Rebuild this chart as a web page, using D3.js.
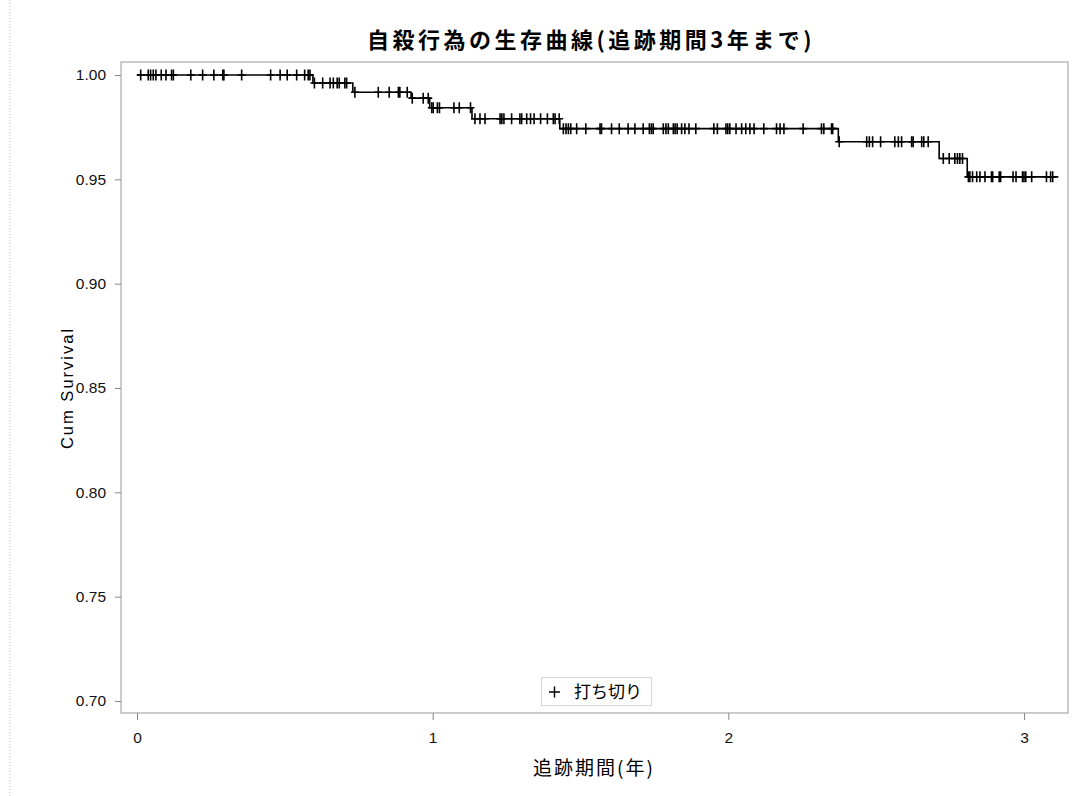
<!DOCTYPE html>
<html>
<head>
<meta charset="utf-8">
<script src="https://cdn.jsdelivr.net/npm/d3@7"></script>
<style>
  body { margin: 0; background: #fff; }
  svg { display: block; }
  .tick text { font-family: "Liberation Sans", Arial, sans-serif; font-size: 15.5px; fill: #111; }
  .tick line { stroke: #888; }
</style>
</head>
<body>
<script>
// step function of the survival curve
var stepTimes = [0.595, 0.73, 0.927, 0.99, 1.133, 1.43, 2.372, 2.713, 2.808];
var survLevels = [1.0, 0.9962, 0.9917, 0.9889, 0.9843, 0.979, 0.9743, 0.968, 0.960, 0.9512];
var endTime = 3.116;

// censored observations (years)
var censorTimes = [
  0.0125, 0.038, 0.046, 0.055, 0.064, 0.082, 0.098, 0.117, 0.123, 0.182, 0.222, 0.26, 0.290, 0.294,
  0.354, 0.452, 0.484, 0.508, 0.540, 0.567, 0.579, 0.585,
  0.600, 0.628, 0.653, 0.664, 0.677, 0.684, 0.703, 0.709,
  0.737, 0.816, 0.853, 0.884, 0.889, 0.914,
  0.931, 0.968, 0.985,
  0.997, 1.002, 1.016, 1.023, 1.072, 1.090, 1.128,
  1.143, 1.160, 1.177, 1.228, 1.234, 1.241, 1.267, 1.295, 1.301, 1.318, 1.331, 1.343, 1.365, 1.388,
  1.408, 1.414, 1.428,
  1.442, 1.451, 1.459, 1.467, 1.487, 1.518, 1.566, 1.571, 1.605, 1.631, 1.661, 1.684, 1.712, 1.733,
  1.740, 1.746, 1.780, 1.789, 1.797, 1.814, 1.820, 1.827, 1.842, 1.853, 1.867, 1.890, 1.951, 1.963,
  1.992, 1.998, 2.005, 2.026, 2.045, 2.059, 2.073, 2.087, 2.120, 2.163, 2.175, 2.188, 2.253, 2.315,
  2.323, 2.349, 2.353,
  2.375, 2.468, 2.477, 2.488, 2.515, 2.563, 2.575, 2.586, 2.620, 2.625, 2.654, 2.661, 2.676,
  2.727, 2.747, 2.766, 2.775, 2.783, 2.792,
  2.812, 2.817, 2.826, 2.840, 2.851, 2.868, 2.890, 2.894, 2.916, 2.921, 2.963, 2.973, 2.995, 3.000,
  3.006, 3.026, 3.076, 3.090, 3.097
];

var xTicks = [0, 1, 2, 3];
var yTicks = [0.70, 0.75, 0.80, 0.85, 0.90, 0.95, 1.00];

var width = 1073, height = 796,
    frameLeft = 121, frameRight = 1068, frameTop = 62, frameBottom = 713;

var svg = d3.select("body").append("svg")
    .attr("width", width)
    .attr("height", height);

var x = d3.scaleLinear().domain([0, 3]).range([137, 1024]);
var y = d3.scaleLinear().domain([0.70, 1.00]).range([701, 75]);

// faint outer border on the left
svg.append("line")
    .attr("x1", 10).attr("x2", 10).attr("y1", 0).attr("y2", height)
    .attr("stroke", "#bbb").attr("stroke-dasharray", "1,2");

// plot frame
svg.append("rect")
    .attr("x", frameLeft).attr("y", frameTop)
    .attr("width", frameRight - frameLeft).attr("height", frameBottom - frameTop)
    .attr("fill", "none").attr("stroke", "#999");

// axes
var yAxis = svg.append("g")
    .attr("transform", "translate(" + frameLeft + ",0)")
    .call(d3.axisLeft(y).tickValues(yTicks).tickFormat(d3.format(".2f")).tickSize(6).tickPadding(9));
yAxis.select(".domain").remove();

var xAxis = svg.append("g")
    .attr("transform", "translate(0," + frameBottom + ")")
    .call(d3.axisBottom(x).tickValues(xTicks).tickFormat(d3.format("d")).tickSize(7).tickPadding(12));
xAxis.select(".domain").remove();

// survival step line
function levelAt(t) {
  return survLevels[d3.bisectRight(stepTimes, t)];
}
var linePts = [[0, survLevels[0]]];
stepTimes.forEach(function(t, i) { linePts.push([t, survLevels[i + 1]]); });
linePts.push([endTime, survLevels[survLevels.length - 1]]);

var line = d3.line()
    .x(function(d) { return x(d[0]); })
    .y(function(d) { return y(d[1]); })
    .curve(d3.curveStepAfter);

svg.append("path")
    .datum(linePts)
    .attr("d", line)
    .attr("fill", "none")
    .attr("stroke", "#000")
    .attr("stroke-width", 1.6);

// censor marks
svg.append("g")
    .selectAll("path")
    .data(censorTimes)
    .enter()
    .append("path")
    .attr("transform", function(d) { return "translate(" + x(d) + "," + y(levelAt(d)) + ")"; })
    .attr("d", "M-4,0H4M0,-5.5V5.5")
    .attr("stroke", "#000")
    .attr("stroke-width", 1.6);

// title
svg.append("text")
    .attr("x", 591).attr("y", 48)
    .attr("text-anchor", "middle")
    .style("font-family", "'Noto Sans CJK JP', sans-serif")
    .style("font-weight", "bold")
    .style("font-size", "22px")
    .style("letter-spacing", "3.5px")
    .text("自殺行為の生存曲線(追跡期間3年まで)");

// axis labels
svg.append("text")
    .attr("transform", "translate(73,388) rotate(-90)")
    .attr("text-anchor", "middle")
    .style("font-family", "'Liberation Sans', Arial, sans-serif")
    .style("font-size", "16.5px")
    .style("letter-spacing", "2px")
    .text("Cum Survival");

svg.append("text")
    .attr("x", 594).attr("y", 775)
    .attr("text-anchor", "middle")
    .style("font-family", "'Noto Sans CJK JP', sans-serif")
    .style("font-size", "19px")
    .style("letter-spacing", "2px")
    .text("追跡期間(年)");

// legend
var legend = svg.append("g");
legend.append("rect")
    .attr("x", 541.5).attr("y", 677.5).attr("width", 110).attr("height", 28)
    .attr("fill", "#fff").attr("stroke", "#aaa").attr("stroke-dasharray", "1,1");
legend.append("path")
    .attr("d", "M549,692H560M554.5,686.5V697.5")
    .attr("stroke", "#000").attr("stroke-width", 1.4);
legend.append("text")
    .attr("x", 574).attr("y", 698)
    .style("font-family", "'Noto Sans CJK JP', sans-serif")
    .style("font-size", "17px")
    .text("打ち切り");
</script>
</body>
</html>
